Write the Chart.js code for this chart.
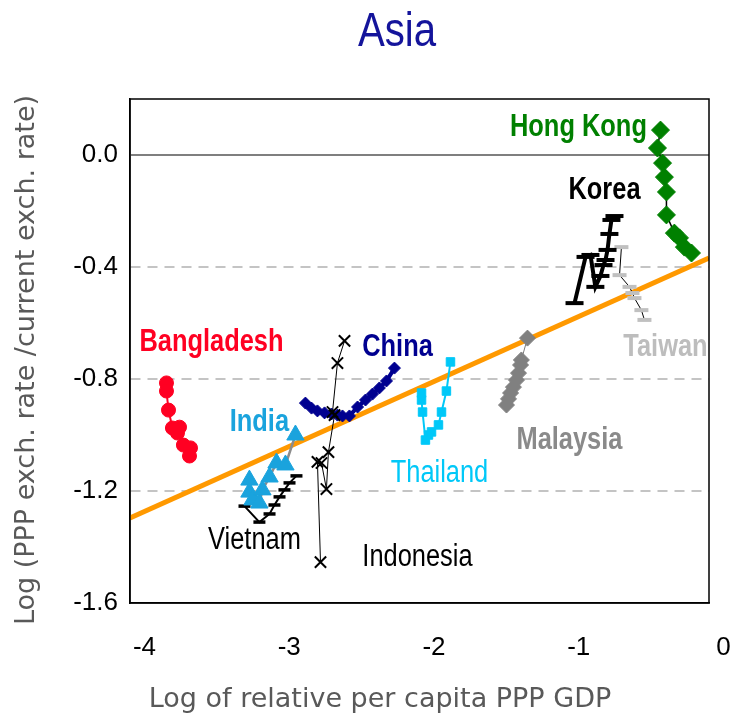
<!DOCTYPE html>
<html>
<head>
<meta charset="utf-8">
<script src="https://cdn.jsdelivr.net/npm/chart.js@4.4.1/dist/chart.umd.min.js"></script>
<style>
  html, body { margin: 0; padding: 0; background: #fff; }
</style>
</head>
<body>
<canvas id="asiaChart" width="732" height="718"></canvas>
<script>
// axis ticks
const xTicks = [-4, -3, -2, -1, 0];
const yTicks = [0.0, -0.4, -0.8, -1.2, -1.6];

// series (x = log relative per capita PPP GDP, y = log PPP/exch. rate)
const bangladeshX = [-3.848, -3.848, -3.834, -3.807, -3.772, -3.758, -3.731, -3.682, -3.689];
const bangladeshY = [-0.814, -0.843, -0.911, -0.975, -0.993, -0.972, -1.036, -1.046, -1.075];

const indiaX = [-3.275, -3.275, -3.254, -3.206, -3.185, -3.136, -3.088, -3.026, -2.957];
const indiaY = [-1.161, -1.204, -1.232, -1.243, -1.196, -1.150, -1.100, -1.107, -1.000];

const vietnamX = [-3.309, -3.206, -3.136, -3.102, -3.067, -3.033, -2.998, -2.950];
const vietnamY = [-1.254, -1.311, -1.282, -1.250, -1.221, -1.196, -1.171, -1.146];

const indonesiaX = [-2.784, -2.805, -2.777, -2.743, -2.729, -2.687, -2.701, -2.667, -2.618];
const indonesiaY = [-1.454, -1.096, -1.100, -1.193, -1.061, -0.929, -0.918, -0.743, -0.664];

const chinaX = [-2.888, -2.846, -2.805, -2.756, -2.708, -2.667, -2.632, -2.584, -2.528, -2.473, -2.425, -2.377, -2.328, -2.273];
const chinaY = [-0.886, -0.904, -0.914, -0.921, -0.925, -0.929, -0.932, -0.932, -0.900, -0.875, -0.854, -0.832, -0.807, -0.761];

const thailandX = [-2.086, -2.086, -2.079, -2.059, -2.038, -2.017, -1.969, -1.948, -1.914, -1.886];
const thailandY = [-0.850, -0.875, -0.918, -1.018, -1.000, -0.989, -0.964, -0.918, -0.843, -0.739];

const malaysiaX = [-1.499, -1.485, -1.471, -1.451, -1.430, -1.416, -1.402, -1.396, -1.354];
const malaysiaY = [-0.893, -0.871, -0.850, -0.829, -0.804, -0.779, -0.750, -0.732, -0.654];

const koreaX = [-1.029, -0.953, -0.919, -0.885, -0.850, -0.829, -0.815, -0.801, -0.788, -0.774, -0.753];
const koreaY = [-0.529, -0.364, -0.357, -0.471, -0.432, -0.393, -0.375, -0.339, -0.282, -0.232, -0.218];

const taiwanX = [-0.705, -0.718, -0.649, -0.629, -0.615, -0.567, -0.546];
const taiwanY = [-0.329, -0.429, -0.471, -0.493, -0.511, -0.554, -0.589];

const hongKongX = [-0.435, -0.456, -0.421, -0.408, -0.394, -0.394, -0.339, -0.304, -0.270, -0.221];
const hongKongY = [0.089, 0.025, -0.029, -0.079, -0.132, -0.214, -0.279, -0.296, -0.329, -0.350];

// fitted line
const fitX = [-4.1, -0.1];
const fitY = [-1.296, -0.368];

// country names and where they sit (data units)
const labelNames = ['Hong Kong', 'Korea', 'Bangladesh', 'China', 'Taiwan', 'India', 'Malaysia', 'Thailand', 'Vietnam', 'Indonesia'];
const labelX = [-1.002, -0.822, -3.537, -2.252, -0.401, -3.206, -1.064, -1.962, -3.240, -2.114];
const labelY = [0.100, -0.125, -0.668, -0.689, -0.689, -0.954, -1.018, -1.139, -1.375, -1.439];
const labelColors = ['#008000', '#000000', '#ff0022', '#000090', '#bdbdbd', '#1aa3dd', '#8a8a8a', '#00c8f8', '#000000', '#000000'];
const labelBold = [true, true, true, true, true, true, true, false, false, false];

const SANS = '"Liberation Sans", Arial, sans-serif';
const NARROW_SCALE = 0.82; // squeeze Arial-like glyphs to a narrow face

function pts(xs, ys) {
  return xs.map((v, i) => ({ x: v, y: ys[i] }));
}

function series(xs, ys, o) {
  return {
    data: pts(xs, ys),
    showLine: true,
    borderColor: o.line,
    borderWidth: o.lineWidth,
    pointStyle: o.style,
    pointRadius: o.radius,
    pointBackgroundColor: o.fill,
    pointBorderColor: o.fill,
    pointBorderWidth: o.pbw || 1
  };
}

function narrowText(ctx, text, px, py) {
  ctx.save();
  ctx.translate(px, py);
  ctx.scale(NARROW_SCALE, 1);
  ctx.fillText(text, 0, 0);
  ctx.restore();
}

const datasets = [
  series(hongKongX, hongKongY, { line: '#000', lineWidth: 1.5, style: 'rectRot', radius: 9, fill: '#008000' }),
  series(koreaX, koreaY, { line: '#000', lineWidth: 4, style: 'line', radius: 9, fill: '#000', pbw: 4 }),
  series(taiwanX, taiwanY, { line: '#000', lineWidth: 1, style: 'line', radius: 7, fill: '#c0c0c0', pbw: 4 }),
  series(malaysiaX, malaysiaY, { line: '#7a7a7a', lineWidth: 1, style: 'rectRot', radius: 8, fill: '#808080' }),
  series(thailandX, thailandY, { line: '#00c8f8', lineWidth: 2, style: 'rect', radius: 6, fill: '#00c8f8' }),
  series(indonesiaX, indonesiaY, { line: '#000', lineWidth: 1, style: 'crossRot', radius: 8, fill: '#000', pbw: 2 }),
  series(chinaX, chinaY, { line: '#000090', lineWidth: 4, style: 'rectRot', radius: 6, fill: '#000090' }),
  series(indiaX, indiaY, { line: '#8c8c8c', lineWidth: 2.5, style: 'triangle', radius: 10, fill: '#1aa3dd' }),
  series(vietnamX, vietnamY, { line: '#000', lineWidth: 2, style: 'line', radius: 6, fill: '#000', pbw: 3.5 }),
  series(bangladeshX, bangladeshY, { line: '#ff0022', lineWidth: 2, style: 'circle', radius: 7, fill: '#ff0022' }),
  { data: pts(fitX, fitY), showLine: true, borderColor: '#ff9900', borderWidth: 5, pointRadius: 0 }
];

const decor = {
  id: 'decor',
  beforeDatasetsDraw(chart) {
    const { ctx, chartArea: a, scales: { y } } = chart;
    const y0 = y.getPixelForValue(0);
    ctx.save();
    ctx.strokeStyle = '#7f7f7f';
    ctx.lineWidth = 2;
    ctx.beginPath();
    ctx.moveTo(a.left, y0);
    ctx.lineTo(a.right, y0);
    ctx.stroke();
    ctx.restore();
  },
  afterDatasetsDraw(chart) {
    const { ctx, scales: { x, y } } = chart;
    ctx.save();
    ctx.textAlign = 'center';
    ctx.textBaseline = 'middle';
    labelNames.forEach((name, i) => {
      ctx.font = (labelBold[i] ? 'bold ' : '') + '31px ' + SANS;
      ctx.fillStyle = labelColors[i];
      narrowText(ctx, name, x.getPixelForValue(labelX[i]), y.getPixelForValue(labelY[i]));
    });
    ctx.restore();
  },
  afterDraw(chart) {
    const { ctx, chartArea: a } = chart;
    ctx.save();
    ctx.strokeStyle = '#000';
    ctx.lineWidth = 1.5;
    ctx.strokeRect(a.left, a.top, a.right - a.left, a.bottom - a.top);

    ctx.textAlign = 'center';
    ctx.textBaseline = 'alphabetic';
    ctx.fillStyle = '#14149b';
    ctx.font = '49px ' + SANS;
    narrowText(ctx, 'Asia', 397, 46);

    ctx.textBaseline = 'middle';
    ctx.fillStyle = '#595959';
    ctx.font = '27px "DejaVu Sans", sans-serif';
    ctx.fillText('Log of relative per capita PPP GDP', 380, 700);
    ctx.translate(27, 360);
    ctx.rotate(-Math.PI / 2);
    ctx.fillText('Log (PPP exch. rate /current exch. rate)', 0, 0);
    ctx.restore();
  }
};

new Chart(document.getElementById('asiaChart').getContext('2d'), {
  type: 'scatter',
  data: { datasets: datasets },
  plugins: [decor],
  options: {
    responsive: false,
    animation: false,
    events: [],
    layout: { padding: { top: 99, right: 23, left: 0, bottom: 0 } },
    plugins: { legend: { display: false }, tooltip: { enabled: false } },
    scales: {
      x: {
        type: 'linear',
        min: -4.1,
        max: -0.1,
        afterBuildTicks: s => { s.ticks = xTicks.map(v => ({ value: v })); },
        afterFit: s => { s.height = 115; s.paddingLeft = 0; s.paddingRight = 0; },
        grid: { display: false },
        border: { display: true, color: '#000', width: 1.5 },
        ticks: {
          autoSkip: false,
          maxRotation: 0,
          padding: 21,
          color: '#000',
          font: { family: SANS, size: 26 },
          callback: v => String(v)
        }
      },
      y: {
        type: 'linear',
        min: -1.6,
        max: 0.2,
        afterBuildTicks: s => { s.ticks = yTicks.map(v => ({ value: v })); },
        afterFit: s => { s.width = 130; s.paddingTop = 0; s.paddingBottom = 0; },
        grid: {
          drawTicks: false,
          lineWidth: 2,
          color: c => {
            const v = c.tick ? Math.round(c.tick.value * 10) : 99;
            return (v === -4 || v === -8 || v === -12) ? '#c4c4c4' : 'rgba(0,0,0,0)';
          }
        },
        border: { display: true, color: '#000', width: 1.5, dash: [10, 7] },
        ticks: {
          padding: 12,
          color: '#000',
          font: { family: SANS, size: 26 },
          callback: v => v.toFixed(1)
        }
      }
    }
  }
});
</script>
</body>
</html>
